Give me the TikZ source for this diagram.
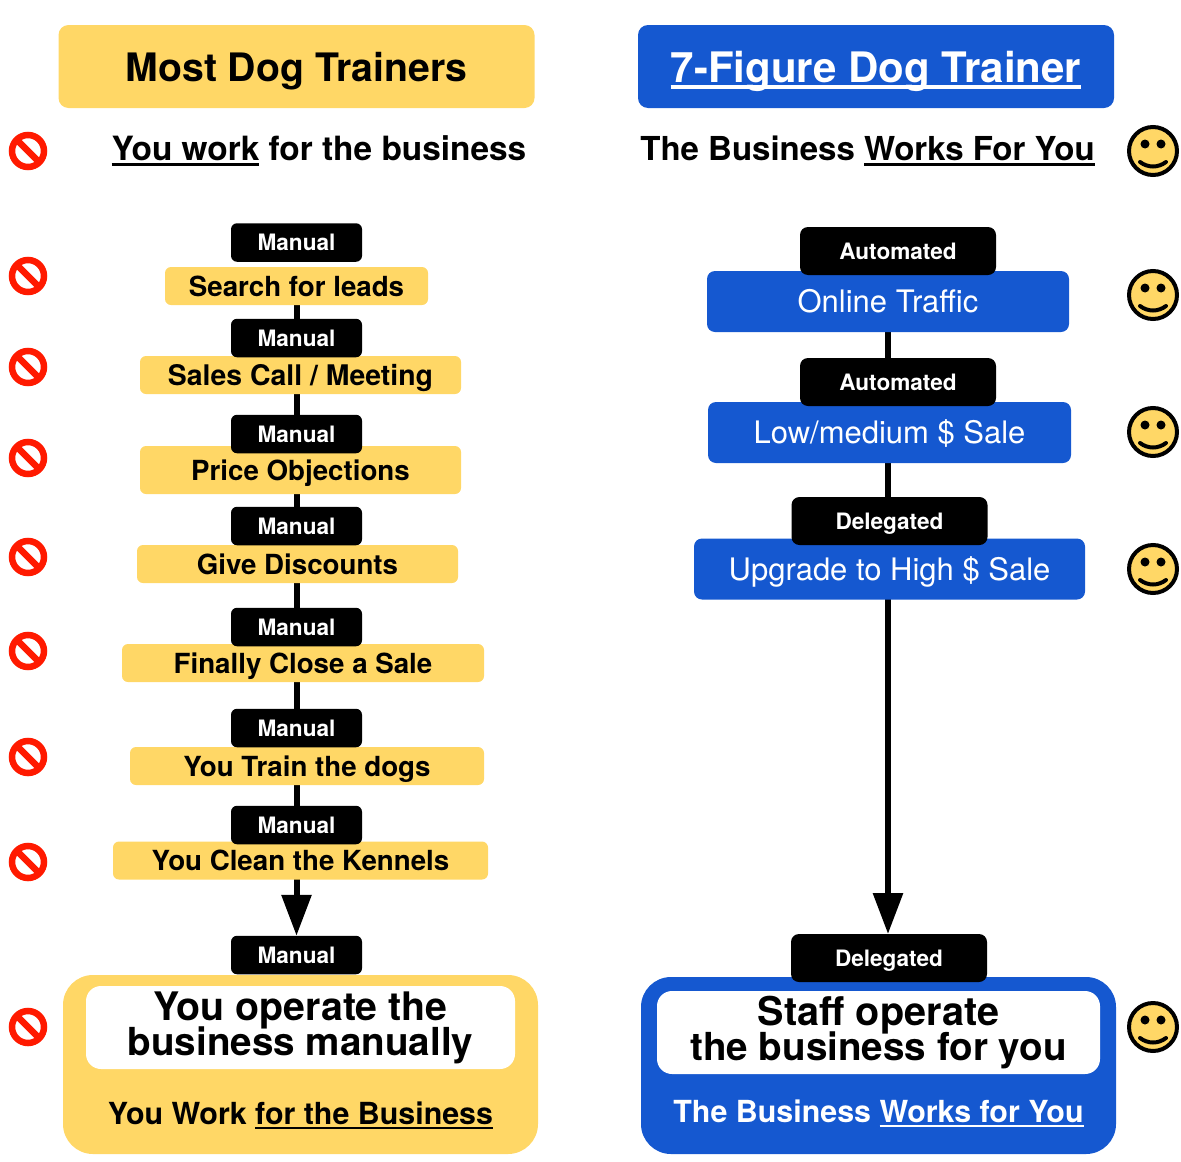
\documentclass[tikz,border=0pt]{standalone}
\usepackage{fontspec}
\setmainfont{TeX Gyre Heros}
\usepackage{xcolor}
\usetikzlibrary{arrows.meta, backgrounds}
\definecolor{dogyellow}{HTML}{FFD766}
\definecolor{dogblue}{HTML}{1558D0}
\definecolor{stopred}{HTML}{FF1A00}
\newcommand{\ulbar}[1]{\sbox0{#1}\rlap{\rule[-.16em]{\wd0}{.09em}}#1}
\newcommand{\px}[1]{\fontsize{#1}{#1}\selectfont}
\tikzset{
  flat/.style={inner sep=0pt, outer sep=0pt, align=center},
  headbox/.style={flat, rounded corners=10pt, minimum width=476pt, minimum height=83pt, text height=29pt, text depth=0pt},
  plain/.style={flat, text height=24pt, text depth=0pt},
  tagbox/.style={flat, fill=black, text=white, rounded corners=6pt, text height=16pt, text depth=0pt, font=\px{22.6}\bfseries},
  leftstep/.style={flat, fill=dogyellow, rounded corners=6pt, minimum height=38pt, text height=20pt, text depth=0pt, font=\px{27.7}\bfseries},
  rightstep/.style={flat, fill=dogblue, text=white, rounded corners=8pt, minimum height=61pt, text height=22pt, text depth=0pt, font=\px{31}},
  endbox/.style={flat, rounded corners=30pt},
  inbox/.style={flat, fill=white, rounded corners=15pt, font=\px{38.6}\bfseries},
  flowline/.style={line width=6pt},
  flowarrow/.style={line width=6pt, -{Triangle[width=29pt,length=41pt]}},
  nosign/.pic={
    \draw[stopred, fill=white, line width=6.5pt] (0,0) circle (16pt);
    \draw[stopred, line width=6.5pt] (-11,-11) -- (11,11);
  },
  smiley/.pic={
    \draw[black, fill=dogyellow, line width=4pt] (0,0) circle (24pt);
    \fill (-8,-7) circle (4.5pt);
    \fill (8,-7) circle (4.5pt);
    \draw[line width=4pt, line cap=round] (-13,11) .. controls (-5,17) and (5,17) .. (13,11);
  }
}

\begin{document}
\begin{tikzpicture}[x=1pt, y=-1pt]
\useasboundingbox (0,0) rectangle (1181,1162);
% headers
\node[headbox, fill=dogyellow, font=\px{39.2}\bfseries] (most) at (296.5,66.5) {Most Dog Trainers};
\node[headbox, fill=dogblue, text=white, font=\px{42}\bfseries, text height=31pt] (seven) at (876,66.5) {\ulbar{7-Figure Dog Trainer}};
\node[plain, font=\px{33.4}\bfseries] (workfor) at (319,148.5) {\ulbar{You work} for the business};
\node[plain, font=\px{33}\bfseries] (worksfor) at (867.5,148.5) {The Business \ulbar{Works For You}};
% left column
\node[leftstep, minimum width=263pt] (leads) at (296.5,286) {Search for leads};
\node[leftstep, minimum width=321pt, font=\px{28.4}\bfseries] (sales) at (300.5,375) {Sales Call / Meeting};
\node[leftstep, minimum width=321pt, minimum height=48pt] (price) at (300.5,470) {Price Objections};
\node[leftstep, minimum width=321pt] (discount) at (297.5,564) {Give Discounts};
\node[leftstep, minimum width=362pt] (close) at (303,663) {Finally Close a Sale};
\node[leftstep, minimum width=354pt] (train) at (307,766) {You Train the dogs};
\node[leftstep, minimum width=375pt] (kennels) at (300.5,860.5) {You Clean the Kennels};
\foreach \n/\y in {ma/242.5,mb/338,mc/434,md/526,me/627,mf/728,mg/825,mh/955}
  \node[tagbox, minimum width=131pt, minimum height=38.5pt] (\n) at (296.5,\y) {Manual};
% right column
\node[rightstep, minimum width=362pt] (traffic) at (888,301.5) {Online Traffic};
\node[rightstep, minimum width=363pt] (low) at (889.5,432.5) {Low/medium \$ Sale};
\node[rightstep, minimum width=391pt] (upgrade) at (889.5,569) {Upgrade to High \$ Sale};
\node[tagbox, rounded corners=8pt, minimum width=196pt, minimum height=48pt] (aa) at (898,251) {Automated};
\node[tagbox, rounded corners=8pt, minimum width=196pt, minimum height=48pt] (ab) at (898,382) {Automated};
\node[tagbox, rounded corners=8pt, minimum width=196pt, minimum height=48pt] (da) at (889.5,521) {Delegated};
% end boxes
\node[endbox, fill=dogyellow, minimum width=475pt, minimum height=179pt] (leftend) at (300.5,1064.5) {};
\node[inbox, minimum width=429pt, minimum height=83pt] (leftin) at (300.5,1027.5) {{\px{39.3}You operate the}\\[-3.5pt]business manually};
\node[plain, font=\px{30.4}\bfseries, text height=22pt] (leftnote) at (300.5,1113.5) {You Work \ulbar{for the Business}};
\node[endbox, fill=dogblue, minimum width=475pt, minimum height=177pt] (rightend) at (878.5,1065.5) {};
\node[inbox, minimum width=443pt, minimum height=83pt] (rightin) at (878.5,1032.5) {{\px{39.6}Staff operate}\\[-3.5pt]the business for you};
\node[plain, text=white, font=\px{30.4}\bfseries, text height=22pt] (rightnote) at (878.5,1111.5) {The Business \ulbar{Works for You}};
\node[tagbox, rounded corners=8pt, minimum width=196pt, minimum height=48pt] (db) at (889,958) {Delegated};
% connectors
\begin{pgfonlayer}{background}
\draw[flowline] (leads) -- (mb);
\foreach \a/\b in {mb/mc,mc/md,md/me,me/mf,mf/mg}
  \draw[flowline] (\a) -- (\b);
\draw[flowarrow] (mg) -- (mh.north);
\draw[flowline] (traffic) -- (traffic |- low);
\draw[flowline] (traffic |- low) -- (traffic |- upgrade);
\draw[flowarrow] (traffic |- upgrade) -- (traffic |- db.north);
\end{pgfonlayer}
% signs
\foreach \y in {151,276,367,458,557,651,757,862,1027}
  \pic at (28,\y) {nosign};
\foreach \y in {151,295,432,569,1027}
  \pic at (1153,\y) {smiley};
\end{tikzpicture}
\end{document}
